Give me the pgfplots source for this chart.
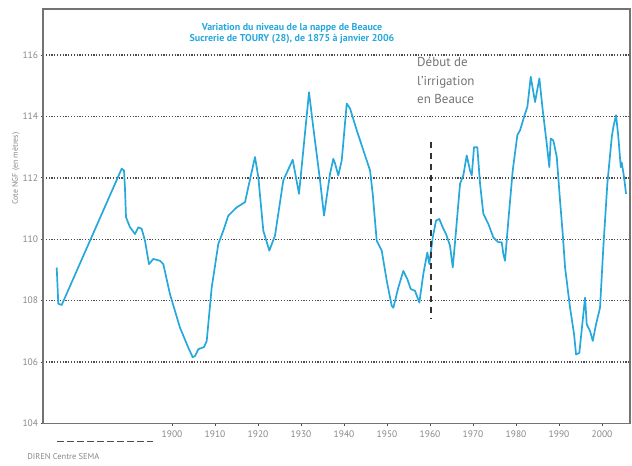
\documentclass[border=0pt]{standalone}
\usepackage{pgfplots}
\pgfplotsset{compat=1.18}
\usepackage{fontspec}
\setmainfont{PT Sans}
\definecolor{nappe}{RGB}{38,168,220}
\definecolor{gridc}{RGB}{75,75,75}
\definecolor{txtg}{RGB}{135,135,135}

\begin{document}
\begin{tikzpicture}
\path[use as bounding box] (-43bp,-42.5bp) rectangle (589bp,423.5bp);
\begin{axis}[
  at={(0,0)}, anchor=south west,
  scale only axis, width=587bp, height=414.5bp,
  xmin=1870, xmax=2006.5, ymin=104, ymax=117.5,
  xtick={1900,1910,...,2000},
  ytick={104,106,...,116},
  xtick pos=bottom, ytick pos=left,
  tick align=outside, major tick length=2.5bp,
  tick style={black!70, line width=0.9bp},
  ymajorgrids,
  grid style={gridc, line width=1.4bp, dash pattern=on 1.2bp off 1.6bp},
  axis line style={black!55, line width=1.6bp},
  /pgf/number format/assume math mode=true,
  /pgf/number format/1000 sep={},
  ticklabel style={font=\fontsize{9.5}{11}\selectfont, txtg},
  xticklabel style={yshift=-1bp},
  yticklabel style={xshift=1bp},
  clip=false,
]
\addplot[nappe, line width=1.7bp, line join=round] table {
x y
1873.19 109.08
1873.56 107.90
1874.35 107.86
1888.30 112.30
1888.84 112.24
1889.07 111.64
1889.30 110.72
1890.23 110.39
1891.40 110.17
1892.16 110.39
1892.95 110.34
1893.72 109.95
1894.65 109.19
1895.65 109.36
1897.21 109.30
1897.98 109.19
1899.53 108.21
1901.86 107.12
1903.79 106.47
1904.81 106.16
1905.35 106.20
1906.12 106.42
1907.44 106.49
1908.07 106.69
1909.23 108.43
1910.77 109.85
1911.93 110.28
1913.09 110.77
1915.05 111.04
1916.98 111.21
1917.74 111.70
1919.30 112.68
1920.07 112.02
1921.23 110.28
1922.63 109.63
1923.95 110.12
1925.88 111.92
1928.07 112.59
1929.53 111.48
1930.53 112.90
1931.86 114.79
1932.79 113.71
1934.42 111.92
1935.35 110.77
1936.74 112.13
1937.51 112.62
1937.91 112.47
1938.67 112.08
1939.47 112.57
1940.63 114.42
1941.40 114.26
1942.95 113.55
1944.49 112.90
1946.05 112.24
1946.67 111.48
1947.60 109.95
1948.77 109.63
1949.93 108.65
1951.09 107.83
1951.47 107.77
1952.63 108.43
1953.79 108.97
1954.72 108.70
1955.51 108.38
1956.51 108.32
1957.51 107.94
1958.44 108.87
1959.37 109.57
1959.84 109.19
1960.63 110.06
1961.40 110.61
1962.16 110.66
1962.95 110.39
1963.72 110.17
1964.65 109.79
1965.28 109.08
1965.81 109.90
1966.98 111.81
1967.74 112.08
1968.53 112.73
1969.30 112.24
1969.70 112.08
1970.23 113.00
1971.00 113.00
1971.63 111.81
1972.40 110.83
1973.56 110.50
1974.72 110.06
1975.88 109.90
1976.67 109.90
1977.05 109.52
1977.44 109.30
1978.21 110.61
1979.23 112.24
1980.30 113.39
1980.93 113.55
1982.09 114.09
1982.63 114.31
1983.42 115.29
1984.42 114.47
1985.42 115.24
1986.21 114.20
1987.14 113.11
1987.74 112.35
1988.07 113.28
1988.67 113.22
1989.47 112.68
1990.23 111.26
1990.86 110.17
1991.40 109.08
1992.56 107.77
1993.49 106.91
1993.95 106.25
1994.72 106.30
1995.65 107.56
1996.05 108.10
1996.44 107.23
1997.21 107.01
1997.84 106.69
1998.60 107.23
1999.53 107.77
2000.30 109.74
2001.23 111.81
2002.26 113.33
2002.63 113.66
2003.26 114.04
2003.79 113.33
2004.35 112.35
2004.58 112.50
2005.12 112.02
2005.58 111.48
};
% annotations
\draw[black!80, line width=1.5bp, dash pattern=on 6bp off 5bp]
  (axis cs:1960.23,113.16) -- (axis cs:1960.23,107.41);
\draw[black!70, line width=1.6bp, dash pattern=on 7bp off 3bp]
  (axis cs:1873.3,103.42) -- (axis cs:1895.6,103.42);
\node[anchor=center, align=center, text=nappe,
  font=\fontsize{10}{11.5}\selectfont\bfseries]
  at (axis cs:1927.9,116.70)
  {Variation du niveau de la nappe de Beauce\\Sucrerie de TOURY (28), de 1875 à janvier 2006};
\node[anchor=north west, align=left, inner sep=0pt, text=black!55,
  font=\fontsize{13}{19}\selectfont]
  at (axis cs:1956.98,115.95) {Début de\\l'irrigation\\en Beauce};
\node[rotate=90, text=txtg, font=\fontsize{8}{10}\selectfont]
  at (axis cs:1863.7,112.3) {Cote NGF (en mètres)};
\node[anchor=west, inner sep=0pt, text=txtg, font=\fontsize{8.5}{10}\selectfont]
  at (axis cs:1866.3,102.92) {DIREN Centre SEMA};
\end{axis}
\end{tikzpicture}
\end{document}
